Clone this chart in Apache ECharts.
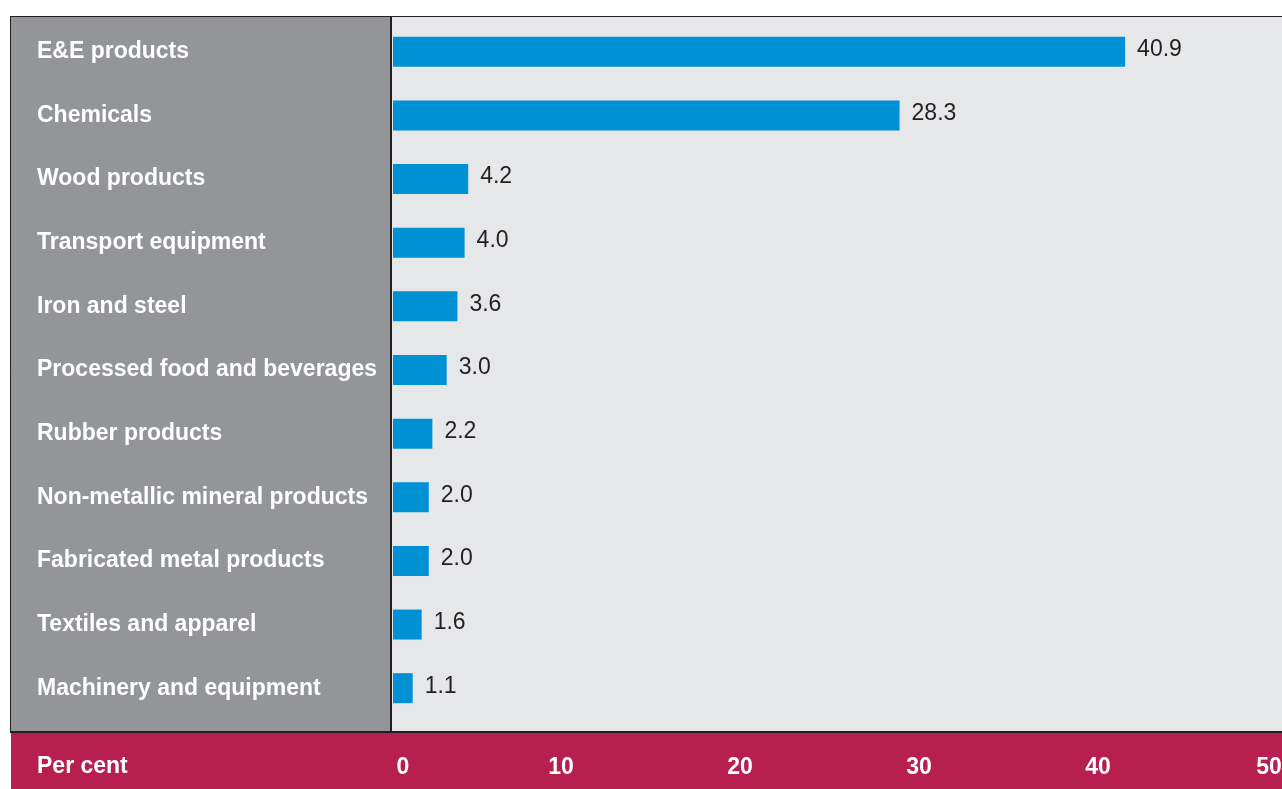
<!DOCTYPE html>
<html>
<head>
<meta charset="utf-8">
<title>Manufactured exports by product</title>
<script src="https://cdn.jsdelivr.net/npm/echarts@6/dist/echarts.min.js"></script>
<style>
  html, body { margin: 0; padding: 0; background: #ffffff; }
  #chart { width: 1282px; height: 789px; }
</style>
</head>
<body>
<div id="chart"></div>
<script>
// Product groups, top to bottom
const categories = [
  'E&E products',
  'Chemicals',
  'Wood products',
  'Transport equipment',
  'Iron and steel',
  'Processed food and beverages',
  'Rubber products',
  'Non-metallic mineral products',
  'Fabricated metal products',
  'Textiles and apparel',
  'Machinery and equipment'
];
// Share of total, per cent
const shares = [40.9, 28.3, 4.2, 4.0, 3.6, 3.0, 2.2, 2.0, 2.0, 1.6, 1.1];
const axisTicks = [0, 10, 20, 30, 40, 50];
const axisTitle = 'Per cent';

const FONT = '"Liberation Sans", Arial, Helvetica, sans-serif';
const DARK = '#231f20';
const FS = 23;

const chart = echarts.init(document.getElementById('chart'), null, { renderer: 'canvas' });

const tickStyle = pad => ({ color: '#ffffff', fontFamily: FONT, fontWeight: 'bold', fontSize: FS, padding: pad });

chart.setOption({
  animation: false,
  backgroundColor: '#ffffff',
  graphic: [
    // grey label panel
    { type: 'rect', z: -10, shape: { x: 10, y: 16, width: 381, height: 716 }, style: { fill: '#939598' } },
    // plot background
    { type: 'rect', z: -10, shape: { x: 391, y: 16, width: 891, height: 716 }, style: { fill: '#e6e7e8' } },
    // axis band
    { type: 'rect', z: -10, shape: { x: 11, y: 732, width: 1271, height: 57 }, style: { fill: '#b71f51' } },
    // frame lines
    { type: 'line', z: 5, shape: { x1: 10, y1: 16.5, x2: 1282, y2: 16.5 }, style: { stroke: DARK, lineWidth: 1 } },
    { type: 'line', z: 5, shape: { x1: 10.5, y1: 16, x2: 10.5, y2: 733 }, style: { stroke: DARK, lineWidth: 1 } },
    { type: 'line', z: 5, shape: { x1: 391, y1: 16, x2: 391, y2: 733 }, style: { stroke: DARK, lineWidth: 2 } },
    { type: 'line', z: 5, shape: { x1: 10, y1: 732, x2: 1282, y2: 732 }, style: { stroke: DARK, lineWidth: 2 } },
    {
      type: 'text', z: 6, left: 37, top: 755,
      style: { text: axisTitle, fill: '#ffffff', font: 'bold ' + FS + 'px ' + FONT }
    }
  ],
  grid: { left: 393, right: -6, top: 20, height: 700, containLabel: false, outerBoundsMode: 'none' },
  xAxis: {
    type: 'value',
    min: axisTicks[0],
    max: axisTicks[axisTicks.length - 1],
    interval: 10,
    axisLine: { show: false },
    axisTick: { show: false },
    splitLine: { show: false },
    axisLabel: {
      margin: 36,
      color: '#ffffff',
      fontFamily: FONT,
      fontWeight: 'bold',
      fontSize: FS,
      showMinLabel: true,
      showMaxLabel: true,
      hideOverlap: false,
      formatter: v => {
        if (v === axisTicks[0]) return '{z|' + v + '}';
        if (v === axisTicks[axisTicks.length - 1]) return '{m|' + v + '}';
        return '{n|' + v + '}';
      },
      rich: {
        z: tickStyle([0, 0, 0, 20]),
        n: tickStyle([0, 22, 0, 0]),
        m: tickStyle([0, 38, 0, 0])
      }
    }
  },
  yAxis: {
    type: 'category',
    data: categories,
    inverse: true,
    axisLine: { show: false },
    axisTick: { show: false },
    splitLine: { show: false },
    axisLabel: {
      align: 'left',
      margin: 356,
      padding: [4, 0, 0, 0],
      color: '#ffffff',
      fontFamily: FONT,
      fontWeight: 'bold',
      fontSize: FS
    }
  },
  series: [{
    type: 'bar',
    data: shares,
    barWidth: 30,
    itemStyle: { color: '#0091d4' },
    label: {
      show: true,
      position: 'right',
      distance: 12,
      offset: [0, -2],
      color: DARK,
      fontFamily: FONT,
      fontSize: FS,
      formatter: p => p.value.toFixed(1)
    }
  }]
});
</script>
</body>
</html>
